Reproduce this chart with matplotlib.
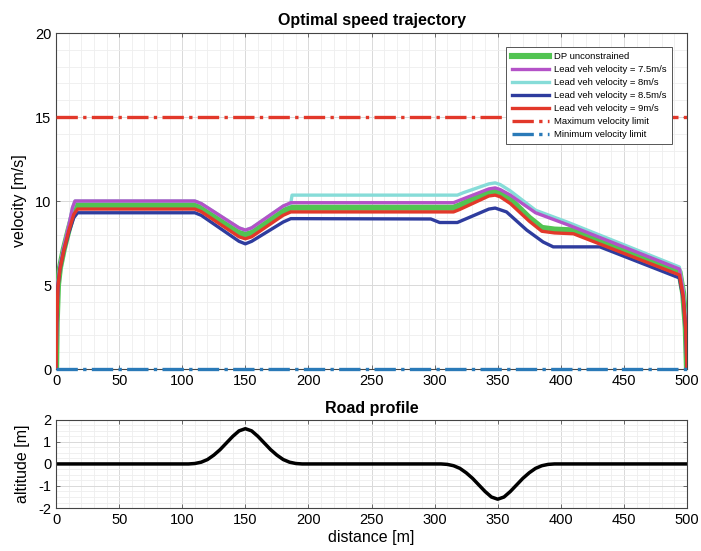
import matplotlib
matplotlib.use("Agg")
import matplotlib.pyplot as plt
from matplotlib.ticker import MultipleLocator

plt.rcParams['font.family'] = ['Liberation Sans', 'DejaVu Sans']
plt.rcParams['axes.unicode_minus'] = False

# Speed trajectories: distance [m] and velocity [m/s]
dp_x = [0, 0.5, 1.5, 3, 6, 10, 14, 16, 110, 115, 145, 150, 155, 180, 186, 190,
        315, 320, 343, 348, 352, 360, 375, 385, 395, 410, 494, 497, 499, 500]
dp_v = [0, 2.8, 5.0, 6.0, 7.1, 8.3, 9.4, 9.75, 9.75, 9.6, 8.1, 8.0, 8.1, 9.4, 9.6, 9.6,
        9.6, 9.75, 10.55, 10.6, 10.5, 10.1, 9.0, 8.4, 8.3, 8.25, 5.8, 4.5, 2.5, 0]

v75_x = [0, 0.5, 1.5, 3, 6, 10, 13, 15, 110, 115, 145, 150, 155, 180, 186, 190,
         315, 320, 343, 348, 352, 360, 380, 405, 494, 497, 499, 500]
v75_v = [0, 2.9, 5.1, 6.1, 7.2, 8.5, 9.6, 10.0, 10.0, 9.85, 8.4, 8.27, 8.4, 9.7, 9.9, 9.9,
         9.9, 10.05, 10.72, 10.78, 10.68, 10.35, 9.3, 8.6, 5.95, 4.6, 2.6, 0]

v8_x = [0, 0.5, 1.5, 3, 6, 10, 13, 15, 110, 115, 145, 150, 155, 180, 186, 187,
        318, 323, 343, 348, 352, 360, 380, 405, 494, 497, 499, 500]
v8_v = [0, 2.9, 5.1, 6.1, 7.2, 8.5, 9.6, 10.0, 10.0, 9.85, 8.4, 8.27, 8.4, 9.7, 9.85, 10.35,
        10.35, 10.5, 11.02, 11.08, 10.98, 10.6, 9.45, 8.75, 6.07, 4.7, 2.7, 0]

v85_x = [0, 0.5, 1.5, 3, 6, 10, 14, 17, 110, 115, 145, 150, 155, 180, 186, 190,
         297, 304, 318, 343, 348, 357, 373, 386, 394, 431, 494, 497, 499, 500]
v85_v = [0, 2.7, 4.9, 5.9, 7.0, 8.1, 9.0, 9.3, 9.3, 9.15, 7.6, 7.45, 7.6, 8.75, 8.95, 8.95,
         8.93, 8.72, 8.72, 9.52, 9.58, 9.35, 8.27, 7.56, 7.27, 7.27, 5.42, 4.2, 2.3, 0]

v9_x = [0, 0.5, 1.5, 3, 6, 10, 14, 17, 110, 115, 145, 150, 155, 180, 186, 190,
        315, 320, 343, 348, 352, 360, 375, 385, 395, 410, 494, 497, 499, 500]
v9_v = [0, 2.7, 4.9, 5.9, 7.0, 8.2, 9.2, 9.52, 9.52, 9.37, 7.87, 7.75, 7.87, 9.15, 9.35, 9.35,
        9.35, 9.5, 10.3, 10.35, 10.25, 9.85, 8.8, 8.2, 8.1, 8.05, 5.6, 4.3, 2.4, 0]

v_max = 15
v_min = 0

# Road profile: distance [m] and altitude [m]
road_x = [0, 105, 110, 115, 120, 125, 130, 135, 140, 145, 150, 155, 160, 165, 170,
          175, 180, 185, 190, 195, 305, 310, 315, 320, 325, 330, 335, 340, 345, 350,
          355, 360, 365, 370, 375, 380, 385, 390, 395, 500]
road_h = [0, 0, 0.02, 0.08, 0.2, 0.4, 0.65, 0.95, 1.25, 1.5, 1.6, 1.5, 1.25, 0.95, 0.65,
          0.4, 0.2, 0.08, 0.02, 0, 0, -0.02, -0.08, -0.2, -0.4, -0.65, -0.95, -1.25, -1.5, -1.6,
          -1.5, -1.25, -0.95, -0.65, -0.4, -0.2, -0.08, -0.02, 0, 0]

x_ticks = [0, 50, 100, 150, 200, 250, 300, 350, 400, 450, 500]
v_ticks = [0, 5, 10, 15, 20]
h_ticks = [-2, -1, 0, 1, 2]

fig = plt.figure(figsize=(7.01, 5.51), dpi=100)
ax1 = fig.add_axes([0.0800, 0.3303, 0.9000, 0.6098])
ax2 = fig.add_axes([0.0800, 0.078, 0.9000, 0.160])


def style(ax):
    ax.grid(True, which='major', color='#d9d9d9', lw=0.7)
    ax.grid(True, which='minor', color='#eeeeee', lw=0.6)
    ax.set_axisbelow(True)
    ax.tick_params(which='both', direction='in', top=True, right=True, labelsize=10.5,
                   length=3, width=0.6, color='#555555')
    ax.tick_params(which='minor', length=0)
    for s in ax.spines.values():
        s.set_color('#444444')
        s.set_linewidth(0.8)


ax1.plot(dp_x, dp_v, color='#52c452', lw=4.4, label='DP unconstrained', zorder=3)
ax1.plot(v8_x, v8_v, color='#86dcd8', lw=2.4, label='Lead veh velocity = 8m/s', zorder=3)
ax1.plot(v75_x, v75_v, color='#b452c8', lw=2.4, label='Lead veh velocity = 7.5m/s', zorder=4)
ax1.plot(v85_x, v85_v, color='#2e3c9e', lw=2.4, label='Lead veh velocity = 8.5m/s', zorder=4)
ax1.plot(v9_x, v9_v, color='#e2382a', lw=2.4, label='Lead veh velocity = 9m/s', zorder=5)
ax1.plot([x_ticks[0], x_ticks[-1]], [v_max, v_max], color='#e2382a', lw=2.4, ls='-.',
         label='Maximum velocity limit', zorder=5)
ax1.plot([x_ticks[0], x_ticks[-1]], [v_min, v_min], color='#2a7ab8', lw=2.4, ls='-.',
         label='Minimum velocity limit', zorder=5, clip_on=False)

ax1.set_xlim(0, 500)
ax1.set_ylim(0, 20)
ax1.set_xticks(x_ticks)
ax1.set_yticks(v_ticks)
ax1.xaxis.set_minor_locator(MultipleLocator(10))
ax1.yaxis.set_minor_locator(MultipleLocator(1))
style(ax1)
ax1.set_ylabel('velocity [m/s]', fontsize=11.5, labelpad=6)
ax1.set_title('Optimal speed trajectory', fontsize=11.5, fontweight='bold', pad=6)

handles, labels = ax1.get_legend_handles_labels()
order = ['DP unconstrained', 'Lead veh velocity = 7.5m/s', 'Lead veh velocity = 8m/s',
         'Lead veh velocity = 8.5m/s', 'Lead veh velocity = 9m/s',
         'Maximum velocity limit', 'Minimum velocity limit']
hl = dict(zip(labels, handles))
leg = ax1.legend([hl[k] for k in order], order, loc='upper right',
                 bbox_to_anchor=(0.976, 0.958), borderaxespad=0, fontsize=6.8,
                 handlelength=4.0, handletextpad=0.5, labelspacing=0.42,
                 fancybox=False, framealpha=1, edgecolor='#555555', borderpad=0.55)
leg.get_frame().set_linewidth(0.7)
leg.set_zorder(10)

ax2.plot(road_x, road_h, color='black', lw=2.5)
ax2.set_xlim(0, 500)
ax2.set_ylim(-2, 2)
ax2.set_xticks(x_ticks)
ax2.set_yticks(h_ticks)
ax2.xaxis.set_minor_locator(MultipleLocator(10))
ax2.yaxis.set_minor_locator(MultipleLocator(0.25))
style(ax2)
ax2.set_ylabel('altitude [m]', fontsize=11.5, labelpad=6)
ax2.set_xlabel('distance [m]', fontsize=11.5, labelpad=2)
ax2.set_title('Road profile', fontsize=11.5, fontweight='bold', pad=5)

fig.savefig('out.png', dpi=100, facecolor='white')
